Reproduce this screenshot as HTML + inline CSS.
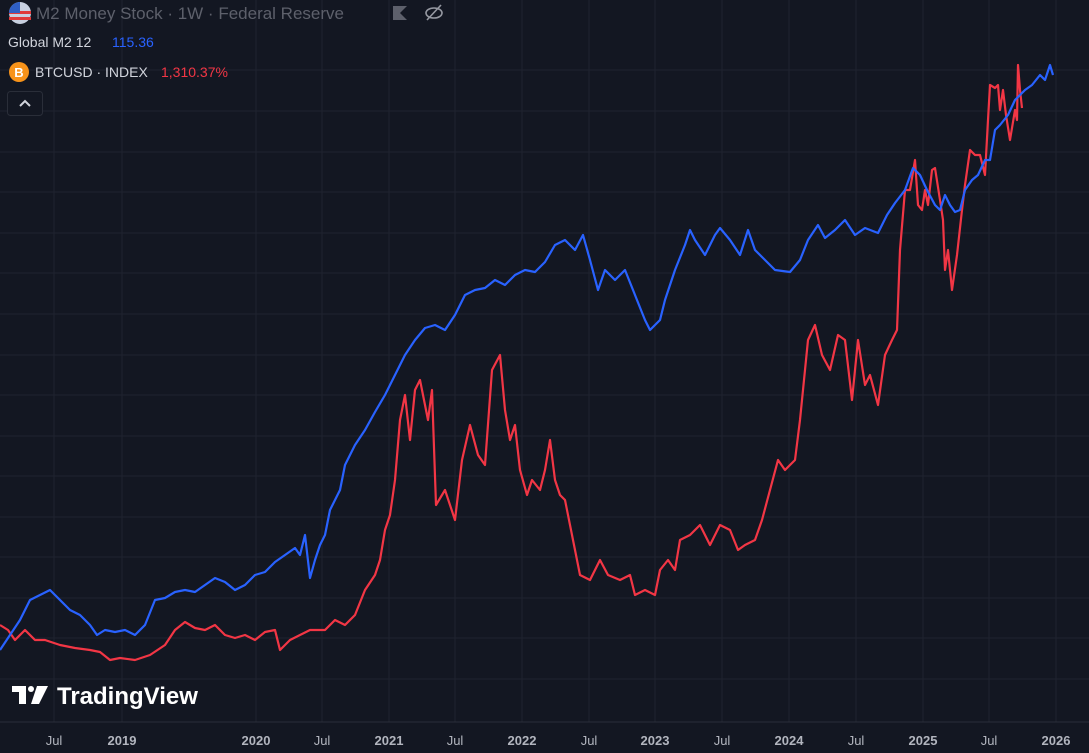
<!DOCTYPE html>
<html><head><meta charset="utf-8"><style>
html,body{margin:0;padding:0;background:#131722;width:1089px;height:753px;overflow:hidden;font-family:"Liberation Sans",sans-serif}
</style></head><body>
<svg width="1089" height="753" viewBox="0 0 1089 753" xmlns="http://www.w3.org/2000/svg">
<rect width="1089" height="753" fill="#131722"/>
<g stroke="#1f2330" stroke-width="1">
<line x1="0" y1="70" x2="1089" y2="70"/><line x1="0" y1="111" x2="1089" y2="111"/><line x1="0" y1="152" x2="1089" y2="152"/><line x1="0" y1="192" x2="1089" y2="192"/><line x1="0" y1="233" x2="1089" y2="233"/><line x1="0" y1="273" x2="1089" y2="273"/><line x1="0" y1="314" x2="1089" y2="314"/><line x1="0" y1="355" x2="1089" y2="355"/><line x1="0" y1="395" x2="1089" y2="395"/><line x1="0" y1="436" x2="1089" y2="436"/><line x1="0" y1="476" x2="1089" y2="476"/><line x1="0" y1="517" x2="1089" y2="517"/><line x1="0" y1="557" x2="1089" y2="557"/><line x1="0" y1="598" x2="1089" y2="598"/><line x1="0" y1="638" x2="1089" y2="638"/><line x1="0" y1="679" x2="1089" y2="679"/>
<line x1="54" y1="0" x2="54" y2="722"/><line x1="122" y1="0" x2="122" y2="722"/><line x1="256" y1="0" x2="256" y2="722"/><line x1="322" y1="0" x2="322" y2="722"/><line x1="389" y1="0" x2="389" y2="722"/><line x1="455" y1="0" x2="455" y2="722"/><line x1="522" y1="0" x2="522" y2="722"/><line x1="589" y1="0" x2="589" y2="722"/><line x1="655" y1="0" x2="655" y2="722"/><line x1="722" y1="0" x2="722" y2="722"/><line x1="789" y1="0" x2="789" y2="722"/><line x1="856" y1="0" x2="856" y2="722"/><line x1="923" y1="0" x2="923" y2="722"/><line x1="989" y1="0" x2="989" y2="722"/><line x1="1056" y1="0" x2="1056" y2="722"/>
</g>
<line x1="0" y1="722" x2="1089" y2="722" stroke="#2a2e39" stroke-width="1"/>
<polyline fill="none" stroke="#f23645" stroke-width="2.2" stroke-linejoin="round" points="0,625 8,630 15,640 25,630 35,640 45,640 60,645 75,648 90,650 100,652 110,660 120,658 135,660 150,655 165,645 175,630 185,622 195,628 205,630 215,625 225,635 235,638 245,635 255,640 265,632 275,630 280,650 290,640 300,635 310,630 325,630 335,620 345,625 355,615 365,590 375,575 380,560 385,530 390,515 395,480 400,420 405,395 410,440 415,390 420,380 428,420 432,390 436,505 445,490 455,520 462,460 470,425 478,455 485,465 492,370 500,355 505,410 510,440 515,425 520,470 527,495 532,480 540,490 545,470 550,440 555,480 560,495 565,500 570,525 575,550 580,575 590,580 600,560 608,575 620,580 630,575 635,595 645,590 655,595 660,570 668,560 675,570 680,540 690,535 700,525 710,545 720,525 730,530 738,550 745,545 755,540 762,520 770,490 778,460 785,470 795,460 800,420 808,340 815,325 822,355 830,370 838,335 845,340 852,400 858,340 865,385 870,375 878,405 885,355 892,340 897,330 900,250 905,190 910,190 915,160 918,205 922,210 925,190 928,205 932,170 935,168 940,200 943,220 945,270 948,250 952,290 957,255 962,210 965,185 970,150 975,155 980,155 985,175 988,120 990,85 995,88 998,85 1000,110 1003,90 1006,115 1010,140 1015,110 1017,120 1018,65 1020,90 1022,108"/>
<polyline fill="none" stroke="#2962ff" stroke-width="2.2" stroke-linejoin="round" points="0,650 10,635 20,620 30,600 40,595 50,590 60,600 70,610 80,615 90,625 97,635 105,630 115,632 125,630 135,635 145,625 155,600 165,598 175,592 185,590 195,592 205,585 215,578 225,582 235,590 245,585 255,575 265,572 275,562 285,555 295,548 300,555 305,535 310,578 315,560 320,545 325,535 330,510 340,490 345,465 355,445 365,430 375,412 385,395 395,375 405,355 415,340 425,328 435,325 445,330 455,315 465,295 475,290 485,288 495,280 505,285 515,275 525,270 535,272 545,262 555,245 565,240 575,250 583,235 590,260 598,290 605,270 615,280 625,270 635,295 645,320 650,330 660,320 665,300 675,270 685,245 690,230 695,240 705,255 715,235 720,228 730,240 740,255 748,230 755,250 765,260 775,270 790,272 800,260 808,240 818,225 825,238 835,230 845,220 855,235 865,228 878,233 887,215 895,203 905,190 913,168 920,175 927,190 935,205 940,210 945,195 950,205 955,212 960,210 965,190 972,180 978,175 985,160 990,160 995,130 1000,125 1008,115 1015,100 1020,95 1025,90 1032,85 1040,75 1045,80 1050,65 1053,75"/>
<g font-family="Liberation Sans, sans-serif" font-size="13" fill="#b2b5be" text-anchor="middle" font-weight="bold">
<text x="54" y="745" font-weight="normal">Jul</text><text x="122" y="745">2019</text><text x="256" y="745">2020</text><text x="322" y="745" font-weight="normal">Jul</text><text x="389" y="745">2021</text><text x="455" y="745" font-weight="normal">Jul</text><text x="522" y="745">2022</text><text x="589" y="745" font-weight="normal">Jul</text><text x="655" y="745">2023</text><text x="722" y="745" font-weight="normal">Jul</text><text x="789" y="745">2024</text><text x="856" y="745" font-weight="normal">Jul</text><text x="923" y="745">2025</text><text x="989" y="745" font-weight="normal">Jul</text><text x="1056" y="745">2026</text>
</g>
<!-- legend -->
<circle cx="20" cy="13" r="11" fill="#c8d0e0"/>
<rect x="9" y="11" width="22" height="3" fill="#e03a3a"/><rect x="9" y="17" width="22" height="3" fill="#e03a3a"/>
<path d="M20,2 A11,11 0 0,0 9,13 L20,13 Z" fill="#2f5fc4"/>
<text x="36" y="19" font-size="17" fill="#5d606b">M2 Money Stock · 1W · Federal Reserve</text>
<rect x="393" y="6" width="14" height="14" fill="#5d606b"/><path d="M400,13 L407,6 L407,20 Z" fill="#131722"/>
<ellipse cx="434" cy="13" rx="8" ry="5" fill="none" stroke="#9598a1" stroke-width="1.6"/><line x1="427" y1="20" x2="441" y2="5" stroke="#9598a1" stroke-width="1.6"/>
<text x="8" y="47" font-size="14" fill="#d1d4dc">Global M2 12</text>
<text x="112" y="47" font-size="14" fill="#2962ff">115.36</text>
<circle cx="19" cy="72" r="10" fill="#f7931a"/><text x="19" y="77" font-size="13" font-weight="bold" fill="#fff" text-anchor="middle">B</text>
<text x="35" y="77" font-size="14" fill="#d1d4dc">BTCUSD · INDEX</text>
<text x="161" y="77" font-size="14" fill="#f23645">1,310.37%</text>
<rect x="7.5" y="91.5" width="35" height="24" rx="3" fill="#131722" stroke="#2a2e39"/>
<path d="M20,106 L25,101 L30,106" fill="none" stroke="#d1d4dc" stroke-width="2"/>
<!-- logo -->
<path d="M12,686 h14 v18 h-7 v-12 h-7 z" fill="#fff"/><circle cx="31" cy="689" r="3" fill="#fff"/><path d="M37,686 h11 l-9,18 h-8 z" fill="#fff"/>
<text x="57" y="704" font-size="24" font-weight="bold" fill="#fff">TradingView</text>
</svg>
</body></html>
